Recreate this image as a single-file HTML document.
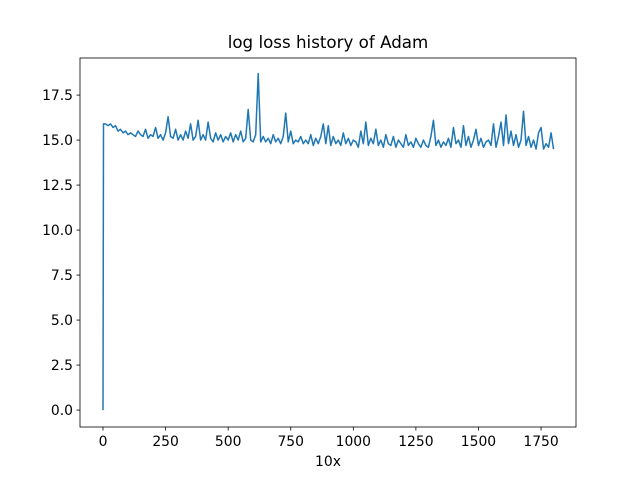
<!DOCTYPE html>
<html><head><meta charset="utf-8"><style>
body{margin:0;background:#fff;}
svg{font-family:"DejaVu Sans","Liberation Sans",sans-serif;}
</style></head><body>
<svg id="chart" width="640" height="480" xmlns="http://www.w3.org/2000/svg">
<rect width="640" height="480" fill="#fff"/>
<text x="328" y="48" font-size="16.7" text-anchor="middle">log loss history of Adam</text>
<text x="328" y="466" font-size="13.9" text-anchor="middle">10x</text>
<g id="plot"></g>
<rect x="80" y="58" width="496" height="369" fill="none" stroke="#000" stroke-width="0.8"/>
</svg>
<script>
const xTicks = [0,250,500,750,1000,1250,1500,1750];
const yTicks = [0,2.5,5,7.5,10,12.5,15,17.5];
const yTickLabels = ["0.0","2.5","5.0","7.5","10.0","12.5","15.0","17.5"];
const losses = [0,15.9,
15.9,15.8,15.9,15.7,15.8,15.5,15.6,15.4,15.5,15.3,
15.4,15.3,15.2,15.5,15.3,15.2,15.6,15.1,15.3,15.2,
15.7,15.1,15.3,15.0,15.4,16.3,15.2,15.1,15.6,15.0,
15.3,15.0,15.5,15.1,15.9,15.0,15.2,16.1,15.0,15.3,
15.0,16.0,15.1,14.9,15.4,15.0,15.3,14.9,15.2,15.0,
15.4,14.9,15.3,15.0,15.5,14.9,15.1,16.7,15.0,14.9,
15.3,18.7,14.9,15.2,14.9,15.1,14.8,15.3,14.9,15.1,
14.8,15.2,16.5,14.9,15.5,14.8,15.0,14.9,15.2,14.8,
15.0,14.8,15.3,14.7,15.1,14.8,15.2,15.9,14.8,15.8,
14.7,15.2,14.8,15.0,14.7,15.4,14.8,15.1,14.7,15.0,
14.9,14.6,15.5,14.8,16.0,14.7,15.1,14.8,15.6,14.7,
15.0,14.6,15.3,14.8,14.7,15.2,14.6,15.0,14.8,14.6,
15.3,14.7,14.9,14.6,15.1,14.8,14.6,15.0,14.7,14.6,
15.2,16.1,14.7,15.0,14.6,14.9,14.7,15.1,14.6,15.7,
14.8,15.0,14.6,15.8,14.7,15.2,14.6,15.0,15.6,14.7,
15.1,14.6,14.9,15.0,14.7,15.9,14.6,15.2,16.0,14.7,
16.4,14.8,15.5,14.7,15.3,14.6,15.0,16.6,14.7,15.2,
14.6,15.0,14.5,15.4,15.7,14.5,14.8,14.6,15.4,14.5];
const iters = [0,2];
for (let i = 1; i <= 180; i++) iters.push(10 * i);

const X0 = 80, X1 = 576, Y0 = 427, Y1 = 58;
const xMin = -91.9, xMax = 1889.6, yMin = -0.94, yMax = 19.56;
function sx(v){ return X0 + (v - xMin) / (xMax - xMin) * (X1 - X0); }
function sy(v){ return Y0 - (v - yMin) / (yMax - yMin) * (Y0 - Y1); }

const NS = "http://www.w3.org/2000/svg";
const g = document.getElementById("plot");
function mk(tag, attrs){ const e = document.createElementNS(NS, tag); for (const k in attrs) e.setAttribute(k, attrs[k]); g.appendChild(e); return e; }

xTicks.forEach(t => {
  const x = sx(t);
  const l = mk("line", {x1:x, x2:x, y1:427, y2:430.5, stroke:"#000", "stroke-width":0.8});
  
  
  const tx = mk("text", {x:x, y:446, "font-size":13.9, "text-anchor":"middle"});
  tx.textContent = String(t);
  
  
});
yTicks.forEach((t, i) => {
  const y = sy(t);
  const l = mk("line", {x1:76.5, x2:80, y1:y, y2:y, stroke:"#000", "stroke-width":0.8});
  
  
  const tx = mk("text", {x:73, y:y + 5, "font-size":13.9, "text-anchor":"end"});
  tx.textContent = yTickLabels[i];
  
  
});
const pts = losses.map((v, i) => sx(iters[i]).toFixed(2) + "," + sy(v).toFixed(2)).join(" ");
const line = mk("polyline", {points:pts, fill:"none", stroke:"#1f77b4", "stroke-width":1.5, "stroke-linejoin":"round"});


</script>
</body></html>
